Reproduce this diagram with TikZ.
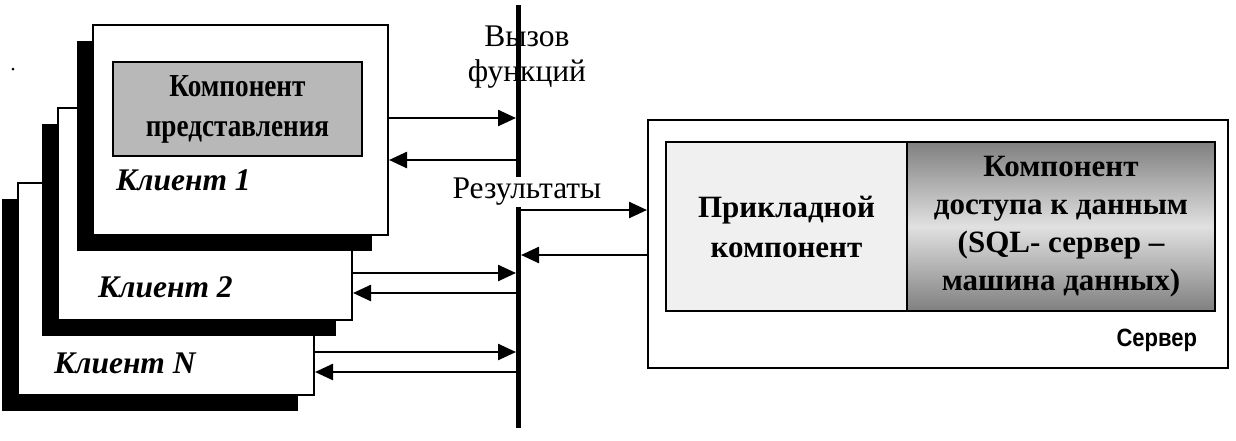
\documentclass[tikz,border=0pt]{standalone}
\usepackage{fontspec}
\setmainfont{Liberation Serif}
\newfontfamily\narrowserif{Liberation Serif}[FakeStretch=0.85]
\newfontfamily\narrowsans{Liberation Sans}[FakeStretch=0.88]
\usepackage{tikz}
\usetikzlibrary{calc,positioning,arrows,arrows.meta,shadows}

\begin{document}
\begin{tikzpicture}[x=1pt, y=-1pt, line width=2pt,
                    >={Triangle[length=18pt,width=16pt]}]
\tikzstyle{client}=[draw, fill=white, minimum width=295pt, minimum height=211pt,
                    drop shadow={shadow xshift=-16pt, shadow yshift=-16pt,
                                 fill=black, opacity=1}]
\tikzstyle{cname}=[anchor=west, inner sep=0pt,
                   font=\fontsize{31.5}{36}\selectfont\bfseries\itshape]
\tikzstyle{part}=[draw, line width=2.5pt, inner sep=0pt, align=center,
                  font=\fontsize{31}{40}\selectfont\bfseries]
\tikzstyle{bartext}=[inner sep=1pt, align=center,
                     font=\fontsize{31.5}{35}\selectfont]
\useasboundingbox (0,0) rectangle (1236,440);
\fill (13,69) circle (1.5pt);
\node[client, minimum width=296pt, minimum height=212pt] (KN) at (166,289) {};
\node[client, minimum width=294pt, minimum height=212pt] (K2) at (205,214) {};
\node[client, minimum width=295pt, minimum height=210pt] (K1) at (240.5,130) {};
\node[part, fill=black!28, minimum width=249pt, minimum height=94pt,
      font=\fontsize{32}{40}\selectfont\narrowserif\bfseries] (P) at (237.5,109)
      {Компонент\\представления};
\node[cname] (T1) at (115,180) {Клиент 1};
\node[cname] (T2) at (97,287) {Клиент 2};
\node[cname] (TN) at (53,363) {Клиент N};
\coordinate (top) at (518,5);
\coordinate (bot) at (518,428);
\draw[line width=5pt] (top) -- (bot);
\node[bartext] (V) at (527,57) {Вызов\\функций};
\node[bartext, fill=white] (R) at (527,192) {Результаты};
\node[draw, minimum width=580pt, minimum height=248pt] (S) at (938,244) {};
\node[part, fill=black!6, minimum width=241pt, minimum height=169pt] (A)
      at (786.5,226.5) {Прикладной\\компонент};
\node[part, top color=black!50, bottom color=black!50, middle color=black!12,
      minimum width=308pt, minimum height=169pt,
      font=\fontsize{31}{38}\selectfont\bfseries] (D) at (1061,226.5)
      {Компонент\\доступа к данным\\(SQL- сервер --\\машина данных)};
\node[anchor=east, inner sep=0pt,
      font=\fontsize{25}{30}\selectfont\narrowsans\bfseries] (SN) at (1198,340) {Сервер};
\coordinate (c1) at (516,118);
\coordinate (r1) at (518,160);
\coordinate (c2) at (516,273);
\coordinate (r2) at (518,293);
\coordinate (cN) at (516,352);
\coordinate (rN) at (518,372);
\coordinate (s1) at (518,210);
\coordinate (s2) at (521,255);
\draw[->, line width=2.5pt] (K1.east |- c1) -- (c1);
\draw[->, line width=2.5pt] (r1) -- (K1.east |- r1);
\draw[->, line width=2.5pt] (K2.east |- c2) -- (c2);
\draw[->, line width=2.5pt] (r2) -- (K2.east |- r2);
\draw[->, line width=2.5pt] (KN.east |- cN) -- (cN);
\draw[->, line width=2.5pt] (rN) -- (KN.east |- rN);
\draw[->, line width=2.5pt] (s1) -- (S.west |- s1);
\draw[->, line width=2.5pt] (S.west |- s2) -- (s2);
\end{tikzpicture}
\end{document}
